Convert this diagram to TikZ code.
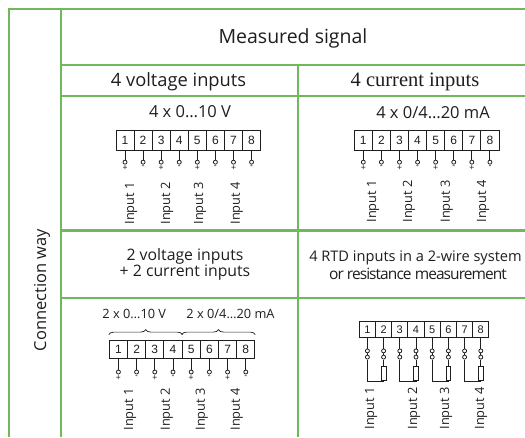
\documentclass[tikz,border=0pt]{standalone}
\usepackage{fontspec}
\setmainfont{Open Sans}
\newfontfamily\seriffont{Liberation Serif}
\newfontfamily\arialfont{Liberation Sans}
\newfontfamily\tightfont[LetterSpace=-6]{Open Sans}
\usetikzlibrary{positioning,decorations.pathreplacing,calc}
\definecolor{tabgreen}{RGB}{112,184,92}
\definecolor{ink}{RGB}{30,30,30}

\begin{document}
\begin{tikzpicture}[
    x=1pt, y=-1pt,
    tab/.style = {draw=tabgreen, line width=2.5pt},
    txt/.style = {inner sep=0, text=ink},
    cell/.style = {
        rectangle, draw=ink, line width=0.9pt, inner sep=0,
        font=\arialfont\fontsize{12}{12}\selectfont, text=ink
    },
    wire/.style = {draw=ink, line width=0.9pt},
    pinend/.style = {circle, draw=ink, line width=0.8pt, fill=white, inner sep=0, minimum size=4pt},
    sign/.style = {inner sep=0, text=ink, font=\arialfont\fontsize{8.5}{8.5}\selectfont},
    inlabel/.style = {rotate=90, anchor=east, inner sep=0, text=ink, font=\fontsize{12.8}{12.8}\selectfont},
    res/.style = {rectangle, draw=ink, line width=0.8pt, fill=white, inner sep=0, minimum width=4.8pt, minimum height=14.5pt}
]
\useasboundingbox (0,0) rectangle (525,437);
\clip (0,0) rectangle (525,437);

% Table grid
\draw[tab] (525,9) -- (9,9) -- (9,437);
\draw[tab] (61,9) -- (61,437);
\draw[tab] (61,65) -- (525,65);
\draw[tab] (61,96) -- (525,96);
\draw[tab] (298,65) -- (298,437);
\draw[tab] (61,230.5) -- (525,230.5);
\draw[tab] (61,298) -- (525,298);

% Headings
\node[txt, rotate=90, font=\fontsize{16.5}{16.5}\selectfont] (way) at (42,290) {Connection way};
\node[txt, font=\fontsize{19.5}{19.5}\selectfont] (signal) at (293,38) {Measured signal};
\node[txt, font=\fontsize{18.3}{18.3}\selectfont] (volt) at (178.5,82) {4 voltage inputs};
\node[txt, font=\seriffont\fontsize{20.5}{20.5}\selectfont] (curr) at (415,82) {4 current inputs};
\node[txt, align=center, font=\fontsize{15.8}{16}\selectfont] (mixed) at (185,264) {2 voltage inputs\\+ 2 current inputs};
\node[txt, font=\fontsize{14.6}{14.6}\selectfont] (rtd) at (415.5,258) {4 RTD inputs in a 2-wire system};
\node[txt, font=\tightfont\fontsize{15.5}{15.5}\selectfont] (rtdb) at (418,274) {or resistance measurement};

% 4 voltage inputs
\node[txt, font=\fontsize{16.5}{16.5}\selectfont] (vrange) at (190,112) {4 x 0…10 V};
\foreach \i in {1,...,8}
    \node[cell, minimum width=18.1pt, minimum height=20pt] (a\i) at ({125+18.08*(\i-1)},140.7) {\i};
\foreach \i/\s in {1/+,2/-,3/+,4/-,5/+,6/-,7/+,8/-} {
    \node[pinend, below=8.6pt of a\i] (ap\i) {};
    \node[sign, below=1.2pt of ap\i] (as\i) {\s};
    \draw[wire] (a\i) -- (ap\i);
}
\foreach \i/\x in {1/131,2/167,3/200,4/236.7}
    \node[inlabel] (al\i) at (\x,182) {Input \i};

% 4 current inputs
\node[txt, font=\fontsize{16.5}{16.5}\selectfont] (crange) at (433,113) {4 x 0/4…20 mA};
\foreach \i in {1,...,8}
    \node[cell, minimum width=18.1pt, minimum height=20pt] (b\i) at ({363.3+18.09*(\i-1)},140.7) {\i};
\foreach \i/\s in {1/+,2/-,3/+,4/-,5/+,6/-,7/+,8/-} {
    \node[pinend, below=8.6pt of b\i] (bp\i) {};
    \node[sign, below=1.2pt of bp\i] (bs\i) {\s};
    \draw[wire] (b\i) -- (bp\i);
}
\foreach \i/\x in {1/373,2/409,3/446.7,4/483}
    \node[inlabel] (bl\i) at (\x,180) {Input \i};

% 2 voltage + 2 current inputs
\node[txt, font=\fontsize{12.8}{12.8}\selectfont] (mvolt) at (134.3,314) {2 x 0…10 V};
\node[txt, font=\fontsize{12.8}{12.8}\selectfont] (mcurr) at (230.5,314) {2 x 0/4…20 mA};
\foreach \i in {1,...,8}
    \node[cell, minimum width=18.2pt, minimum height=18.3pt] (c\i) at ({118.4+18.2*(\i-1)},349.2) {\i};
\foreach \i/\s in {1/+,2/-,3/+,4/-,5/+,6/-,7/+,8/-} {
    \node[pinend, below=10.8pt of c\i] (cp\i) {};
    \node[sign, below=1.2pt of cp\i] (cs\i) {\s};
    \draw[wire] (c\i) -- (cp\i);
}
\draw[wire, line width=0.7pt, decorate, decoration={brace, amplitude=5pt}]
    ($(c1.north west)+(0,-5)$) -- ($(c4.north east)+(0,-5)$);
\draw[wire, line width=0.7pt, decorate, decoration={brace, amplitude=5pt}]
    ($(c5.north west)+(0,-5)$) -- ($(c8.north east)+(0,-5)$);
\foreach \i/\x in {1/130,2/166.7,3/201.7,4/236.7}
    \node[inlabel] (cl\i) at (\x,388) {Input \i};

% RTD, 2-wire
\foreach \i in {1,...,8}
    \node[cell, minimum width=16.2pt, minimum height=16.7pt, font=\arialfont\fontsize{11}{11}\selectfont] (d\i) at ({367.4+16.2*(\i-1)},329.3) {\i};
\foreach \i in {1,...,8} {
    \node[pinend, below=10.4pt of d\i] (dp\i) {};
    \node[pinend, below=1.4pt of dp\i] (dq\i) {};
    \draw[wire] (d\i) -- (dp\i) -- (dq\i);
}
\foreach \i/\j in {1/2,3/4,5/6,7/8} {
    \node[res, below=6pt of dq\j] (dr\j) {};
    \draw[wire] (dq\j) -- (dr\j);
    \draw[wire] (dq\i) -- ++(0,24) -| (dr\j.south);
}
\foreach \i/\x in {1/371,2/414,3/446,4/481}
    \node[inlabel] (dl\i) at (\x,387) {Input \i};

\end{tikzpicture}
\end{document}
